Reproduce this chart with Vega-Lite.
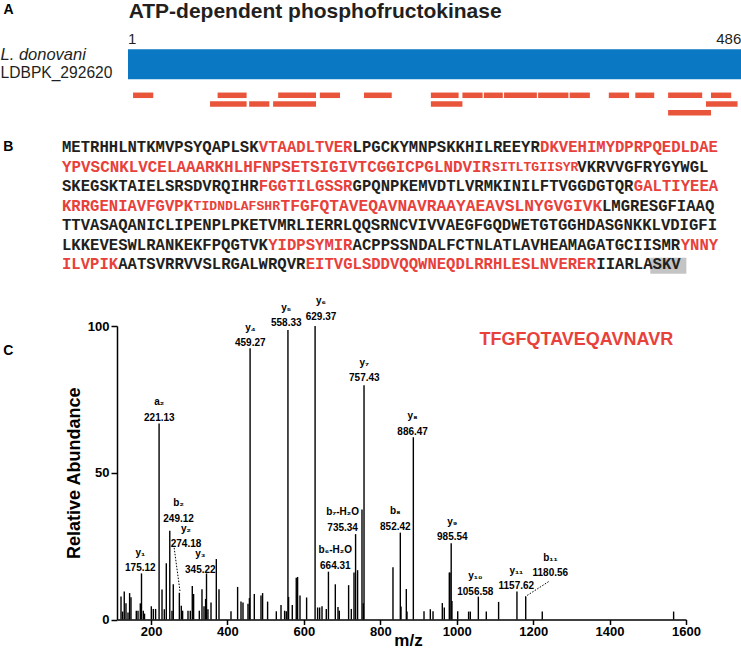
{
  "$schema": "https://vega.github.io/schema/vega-lite/v6.json",
  "padding": 0,
  "spacing": 0,
  "background": "white",
  "config": {"view": {"stroke": null}, "font": "Liberation Sans", "axis": {"grid": false}},
  "datasets": {
    "protein": [{"organism": "L. donovani", "gene": "LDBPK_292620", "name": "ATP-dependent phosphofructokinase", "start": 0, "end": 486, "first": "1", "last": "486", "panel": "A"}],
    "peptides": [
      {"start": 4, "end": 20, "lane": 1}, {"start": 71, "end": 94, "lane": 1}, {"start": 119, "end": 149, "lane": 1},
      {"start": 152, "end": 168, "lane": 1}, {"start": 187, "end": 209, "lane": 1}, {"start": 240, "end": 262, "lane": 1},
      {"start": 265, "end": 281, "lane": 1}, {"start": 282, "end": 297, "lane": 1}, {"start": 298, "end": 324, "lane": 1},
      {"start": 325, "end": 349, "lane": 1}, {"start": 350, "end": 366, "lane": 1}, {"start": 381, "end": 397, "lane": 1},
      {"start": 402, "end": 417, "lane": 1}, {"start": 428, "end": 455, "lane": 1}, {"start": 462, "end": 478, "lane": 1},
      {"start": 65, "end": 94, "lane": 2}, {"start": 96, "end": 112, "lane": 2}, {"start": 115, "end": 149, "lane": 2},
      {"start": 240, "end": 265, "lane": 2}, {"start": 458, "end": 483, "lane": 2},
      {"start": 428, "end": 462, "lane": 3}
    ],
    "sequence": [
      {"row": 1, "col": 0, "seq": "METRHHLNTKMVPSYQAPLSK", "covered": "no", "kind": "std"},
      {"row": 1, "col": 21, "seq": "VTAADLTVER", "covered": "yes", "kind": "std"},
      {"row": 1, "col": 31, "seq": "LPGCKYMNPSKKHILREEYR", "covered": "no", "kind": "std"},
      {"row": 1, "col": 51, "seq": "DKVEHIMYDPRPQEDLDAE", "covered": "yes", "kind": "std"},
      {"row": 2, "col": 0, "seq": "YPVSCNKLVCELAAARKHLHFNPSETSIGIVTCGGICPGLNDVIR", "covered": "yes", "kind": "wide"},
      {"row": 2, "col": 45.87, "seq": "SITLTGIISYR", "covered": "yes", "kind": "minor"},
      {"row": 2, "col": 54.97, "seq": "VKRVVGFRYGYWGL", "covered": "no", "kind": "std"},
      {"row": 3, "col": 0, "seq": "SKEGSKTAIELSRSDVRQIHR", "covered": "no", "kind": "std"},
      {"row": 3, "col": 21, "seq": "FGGTILGSSR", "covered": "yes", "kind": "std"},
      {"row": 3, "col": 31, "seq": "GPQNPKEMVDTLVRMKINILFTVGGDGTQR", "covered": "no", "kind": "std"},
      {"row": 3, "col": 61, "seq": "GALTIYEEA", "covered": "yes", "kind": "std"},
      {"row": 4, "col": 0, "seq": "KRRGENIAVFGVPK", "covered": "yes", "kind": "std"},
      {"row": 4, "col": 14.04, "seq": "TIDNDLAFSHR", "covered": "yes", "kind": "minor"},
      {"row": 4, "col": 23.3, "seq": "TFGFQTAVEQAVNAVRAAYAEAVSLNYGVGIVK", "covered": "yes", "kind": "spectrum"},
      {"row": 4, "col": 57.6, "seq": "LMGRESGFIAAQ", "covered": "no", "kind": "std"},
      {"row": 5, "col": 0, "seq": "TTVASAQANICLIPENPLPKETVMRLIERRLQQSRNCVIVVAEGFGQDWETGTGGHDASGNKKLVDIGFI", "covered": "no", "kind": "std"},
      {"row": 6, "col": 0, "seq": "LKKEVESWLRANKEKFPQGTVK", "covered": "no", "kind": "std"},
      {"row": 6, "col": 22, "seq": "YIDPSYMIR", "covered": "yes", "kind": "std"},
      {"row": 6, "col": 31, "seq": "ACPPSSNDALFCTNLATLAVHEAMAGATGCIISMR", "covered": "no", "kind": "std"},
      {"row": 6, "col": 66, "seq": "YNNY", "covered": "yes", "kind": "std"},
      {"row": 7, "col": 0, "seq": "ILVPIK", "covered": "yes", "kind": "std"},
      {"row": 7, "col": 6, "seq": "AATSVRRVVSLRGALWRQVR", "covered": "no", "kind": "std"},
      {"row": 7, "col": 26, "seq": "EITVGLSDDVQQWNEQDLRRHLESLNVERER", "covered": "yes", "kind": "std"},
      {"row": 7, "col": 57, "seq": "IIARLA", "covered": "no", "kind": "std"},
      {"row": 7, "col": 63, "seq": "SKV", "covered": "no", "kind": "std"}
    ],
    "motif": [{"row": 7, "from": 62.75, "to": 66.6, "motif": "SKV"}],
    "peaks": [
      {"mz": 121.5, "ab": 7.8}, {"mz": 125.7, "ab": 2.7}, {"mz": 130, "ab": 9.5}, {"mz": 134.5, "ab": 5.5},
      {"mz": 139.8, "ab": 2.4}, {"mz": 144, "ab": 9}, {"mz": 147.6, "ab": 7.6}, {"mz": 161.5, "ab": 3},
      {"mz": 166, "ab": 3}, {"mz": 172, "ab": 5.5}, {"mz": 175.12, "ab": 15.7}, {"mz": 179.8, "ab": 3},
      {"mz": 183, "ab": 2}, {"mz": 200.8, "ab": 4.5}, {"mz": 206, "ab": 3.6}, {"mz": 212, "ab": 3.6},
      {"mz": 221.13, "ab": 66.8}, {"mz": 228.8, "ab": 10.2}, {"mz": 234.8, "ab": 3.5}, {"mz": 240, "ab": 19.2},
      {"mz": 249.12, "ab": 30.2}, {"mz": 254.9, "ab": 3}, {"mz": 258.3, "ab": 12}, {"mz": 274.18, "ab": 9.1},
      {"mz": 279.3, "ab": 4.7}, {"mz": 282.7, "ab": 3}, {"mz": 296.8, "ab": 3}, {"mz": 302.8, "ab": 3},
      {"mz": 308, "ab": 11.4}, {"mz": 311.5, "ab": 8.7}, {"mz": 326.4, "ab": 3}, {"mz": 333.4, "ab": 10.3},
      {"mz": 338.7, "ab": 4.5}, {"mz": 342.9, "ab": 7}, {"mz": 345.22, "ab": 15.7}, {"mz": 349, "ab": 3.5},
      {"mz": 357, "ab": 5.8}, {"mz": 370.9, "ab": 20.6}, {"mz": 377.9, "ab": 10.3}, {"mz": 409.3, "ab": 2.8},
      {"mz": 426.6, "ab": 11.1}, {"mz": 435.5, "ab": 6.1}, {"mz": 440.7, "ab": 5.8}, {"mz": 453.8, "ab": 5.4},
      {"mz": 457.5, "ab": 7.3}, {"mz": 459.27, "ab": 92.4}, {"mz": 470.3, "ab": 8.7}, {"mz": 487.8, "ab": 8.2},
      {"mz": 492, "ab": 9}, {"mz": 505.1, "ab": 6.1}, {"mz": 527.9, "ab": 2.8}, {"mz": 540.2, "ab": 4.9},
      {"mz": 549.6, "ab": 3}, {"mz": 554, "ab": 2.8}, {"mz": 558.33, "ab": 98.6}, {"mz": 560, "ab": 7.7},
      {"mz": 569.7, "ab": 4.9}, {"mz": 580.1, "ab": 14.2}, {"mz": 583.6, "ab": 14.5}, {"mz": 589.9, "ab": 8.2},
      {"mz": 607.2, "ab": 7.5}, {"mz": 629.37, "ab": 100}, {"mz": 636, "ab": 4.1}, {"mz": 641.3, "ab": 4.1},
      {"mz": 647.5, "ab": 4.5}, {"mz": 658.7, "ab": 3.6}, {"mz": 664.31, "ab": 16.3}, {"mz": 682.3, "ab": 12},
      {"mz": 689.3, "ab": 4.3}, {"mz": 692.8, "ab": 3}, {"mz": 717.1, "ab": 11.7}, {"mz": 724.2, "ab": 3.6},
      {"mz": 731.2, "ab": 16}, {"mz": 735.34, "ab": 29.1}, {"mz": 740.6, "ab": 16.8}, {"mz": 752.1, "ab": 37.5},
      {"mz": 755.5, "ab": 5.5}, {"mz": 757.43, "ab": 79.8}, {"mz": 833.2, "ab": 17.8}, {"mz": 852.42, "ab": 29.6},
      {"mz": 854.2, "ab": 4.4}, {"mz": 868.1, "ab": 10.4}, {"mz": 869.9, "ab": 2.7}, {"mz": 886.47, "ab": 62.1},
      {"mz": 914.4, "ab": 2.8}, {"mz": 930.9, "ab": 3.5}, {"mz": 938, "ab": 2.8}, {"mz": 962.3, "ab": 5.6},
      {"mz": 967.5, "ab": 4.1}, {"mz": 980.6, "ab": 16}, {"mz": 982.4, "ab": 16}, {"mz": 985.54, "ab": 26},
      {"mz": 987.5, "ab": 6.3}, {"mz": 1002.6, "ab": 2.8}, {"mz": 1031.1, "ab": 2.7}, {"mz": 1035.6, "ab": 2.7},
      {"mz": 1056.58, "ab": 7.8}, {"mz": 1077.4, "ab": 2.7}, {"mz": 1109.6, "ab": 6}, {"mz": 1157.62, "ab": 9.5},
      {"mz": 1180.56, "ab": 7.8}, {"mz": 1223.9, "ab": 2.7}, {"mz": 1567.6, "ab": 2.7}
    ],
    "ions": [
      {"ion": "y₁", "label": "175.12", "mz": 172, "ab": 17.4},
      {"ion": "a₂", "label": "221.13", "mz": 221.7, "ab": 68.8},
      {"ion": "b₂", "label": "249.12", "mz": 272.2, "ab": 34.4},
      {"ion": "y₂", "label": "274.18", "mz": 291.6, "ab": 25.6},
      {"ion": "y₃", "label": "345.22", "mz": 329, "ab": 16.9},
      {"ion": "y₄", "label": "459.27", "mz": 459.8, "ab": 94.1},
      {"ion": "y₅", "label": "558.33", "mz": 554, "ab": 100.9},
      {"ion": "y₆", "label": "629.37", "mz": 644.9, "ab": 103.2},
      {"ion": "y₇", "label": "757.43", "mz": 758.2, "ab": 82.2},
      {"ion": "b₇-H₂O", "label": "735.34", "mz": 701.4, "ab": 31.3},
      {"ion": "b₆-H₂O", "label": "664.31", "mz": 682.3, "ab": 18.3},
      {"ion": "b₈", "label": "852.42", "mz": 839.3, "ab": 31.6},
      {"ion": "y₈", "label": "886.47", "mz": 884.6, "ab": 64},
      {"ion": "y₉", "label": "985.54", "mz": 988.5, "ab": 28},
      {"ion": "y₁₀", "label": "1056.58", "mz": 1048.7, "ab": 9.5},
      {"ion": "y₁₁", "label": "1157.62", "mz": 1156, "ab": 11.4},
      {"ion": "b₁₁", "label": "1180.56", "mz": 1245, "ab": 15.7}
    ],
    "leaders": [
      {"mz": 260.6, "ab": 24.4, "mz2": 276.3, "ab2": 9.2},
      {"mz": 1240.5, "ab": 12.9, "mz2": 1179.5, "ab2": 7.8}
    ]
  },
  "vconcat": [
    {
      "width": 624.3,
      "height": 120,
      "data": {"name": "protein"},
      "layer": [
        {"mark": {"type": "rect", "color": "#0a78c2"},
         "encoding": {
           "x": {"field": "start", "type": "quantitative", "scale": {"domain": [-8.72, 486], "nice": false, "zero": false}, "axis": null},
           "x2": {"field": "end"},
           "y": {"datum": -4.287, "type": "quantitative", "scale": {"domain": [-9.839, 3.954], "reverse": true, "nice": false, "zero": false}, "axis": null},
           "y2": {"datum": -0.839}}},
        {"data": {"name": "peptides"}, "mark": {"type": "rule", "color": "#e9553b", "strokeWidth": 5.5, "strokeCap": "butt"},
         "encoding": {
           "x": {"field": "start", "type": "quantitative", "scale": {"domain": [-8.72, 486], "nice": false, "zero": false}, "axis": null},
           "x2": {"field": "end"},
           "y": {"field": "lane", "type": "quantitative", "scale": {"domain": [-9.839, 3.954], "reverse": true, "nice": false, "zero": false}, "axis": null}}},
        {"mark": {"type": "text", "align": "left", "baseline": "middle", "fontSize": 21, "fontWeight": "bold", "color": "#231f20"},
         "encoding": {"x": {"datum": 0.5, "type": "quantitative"}, "y": {"datum": -8.6, "type": "quantitative"}, "text": {"field": "name"}}},
        {"mark": {"type": "text", "align": "left", "baseline": "middle", "fontSize": 14, "fontWeight": "bold", "color": "#000000"},
         "encoding": {"x": {"datum": -98.6, "type": "quantitative"}, "y": {"datum": -8.805, "type": "quantitative"}, "text": {"field": "panel"}}},
        {"mark": {"type": "text", "align": "left", "baseline": "middle", "fontSize": 15, "color": "#231f20"},
         "encoding": {"x": {"field": "start", "type": "quantitative"}, "y": {"datum": -5.437, "type": "quantitative"}, "text": {"field": "first"}}},
        {"mark": {"type": "text", "align": "right", "baseline": "middle", "fontSize": 15, "color": "#231f20"},
         "encoding": {"x": {"field": "end", "type": "quantitative"}, "y": {"datum": -5.437, "type": "quantitative"}, "text": {"field": "last"}}},
        {"mark": {"type": "text", "align": "left", "baseline": "middle", "fontSize": 16.5, "fontStyle": "italic", "color": "#231f20"},
         "encoding": {"x": {"datum": -101, "type": "quantitative"}, "y": {"datum": -3.632, "type": "quantitative"}, "text": {"field": "organism"}}},
        {"mark": {"type": "text", "align": "left", "baseline": "middle", "fontSize": 15.6, "color": "#231f20"},
         "encoding": {"x": {"datum": -101, "type": "quantitative"}, "y": {"datum": -1.598, "type": "quantitative"}, "text": {"field": "gene"}}}
      ]
    },
    {
      "width": 624.3,
      "height": 175,
      "layer": [
        {"data": {"name": "motif"}, "mark": {"type": "rect", "color": "#c4c4c4"},
         "encoding": {
           "x": {"field": "from", "type": "quantitative", "scale": {"domain": [5.867, 72.459], "nice": false, "zero": false}, "axis": null},
           "x2": {"field": "to"},
           "y": {"datum": 6.66, "type": "quantitative", "scale": {"domain": [-0.33, 8.62], "reverse": true, "nice": false, "zero": false}, "axis": null},
           "y2": {"datum": 7.48}}},
        {"data": {"name": "sequence"}, "transform": [{"filter": "datum.kind == 'std'"}],
         "mark": {"type": "text", "align": "left", "baseline": "middle", "font": "Liberation Mono", "fontWeight": "bold", "fontSize": 15.6},
         "encoding": {
           "x": {"field": "col", "type": "quantitative", "scale": {"domain": [5.867, 72.459], "nice": false, "zero": false}, "axis": null},
           "y": {"field": "row", "type": "quantitative", "scale": {"domain": [-0.33, 8.62], "reverse": true, "nice": false, "zero": false}, "axis": null},
           "color": {"field": "covered", "type": "nominal", "scale": {"domain": ["yes", "no"], "range": ["#e8403a", "#231f20"]}, "legend": null},
           "text": {"field": "seq"}}},
        {"data": {"name": "sequence"}, "transform": [{"filter": "datum.kind == 'wide'"}],
         "mark": {"type": "text", "align": "left", "baseline": "middle", "font": "Liberation Mono", "fontWeight": "bold", "fontSize": 15.9},
         "encoding": {
           "x": {"field": "col", "type": "quantitative"},
           "y": {"field": "row", "type": "quantitative"},
           "color": {"field": "covered", "type": "nominal", "legend": null},
           "text": {"field": "seq"}}},
        {"data": {"name": "sequence"}, "transform": [{"filter": "datum.kind == 'minor'"}],
         "mark": {"type": "text", "align": "left", "baseline": "middle", "font": "Liberation Mono", "fontWeight": "bold", "fontSize": 13.1},
         "encoding": {
           "x": {"field": "col", "type": "quantitative"},
           "y": {"field": "row", "type": "quantitative"},
           "color": {"field": "covered", "type": "nominal", "legend": null},
           "text": {"field": "seq"}}},
        {"data": {"name": "sequence"}, "transform": [{"filter": "datum.kind == 'spectrum'"}],
         "mark": {"type": "text", "align": "left", "baseline": "middle", "font": "Liberation Mono", "fontWeight": "bold", "fontSize": 16.25},
         "encoding": {
           "x": {"field": "col", "type": "quantitative"},
           "y": {"field": "row", "type": "quantitative"},
           "color": {"field": "covered", "type": "nominal", "legend": null},
           "text": {"field": "seq"}}},
        {"data": {"values": [{"panel": "B"}]}, "mark": {"type": "text", "align": "left", "baseline": "middle", "fontSize": 14, "fontWeight": "bold", "color": "#000000"},
         "encoding": {"x": {"datum": -6.26, "type": "quantitative"}, "y": {"datum": 1, "type": "quantitative"}, "text": {"field": "panel"}}}
      ]
    },
    {
      "width": 569,
      "height": 293.5,
      "layer": [
        {"data": {"name": "peaks"}, "mark": {"type": "rule", "color": "#000000", "strokeWidth": 1.4},
         "encoding": {
           "x": {"field": "mz", "type": "quantitative", "title": "m/z", "scale": {"domain": [111, 1600], "nice": false, "zero": false},
                 "axis": {"values": [200, 400, 600, 800, 1000, 1200, 1400, 1600], "format": "d", "labelFlush": false,
                          "labelFontWeight": "bold", "labelFontSize": 13, "labelColor": "#000000", "labelPadding": 1,
                          "domainColor": "#000000", "domainWidth": 1.5, "tickColor": "#000000", "tickWidth": 1.5, "tickSize": 5,
                          "titleFontSize": 17, "titleFontWeight": "bold", "titleColor": "#000000", "titlePadding": -6, "titleX": 291}},
           "y": {"field": "ab", "type": "quantitative", "title": "Relative Abundance", "scale": {"domain": [0, 100], "nice": false, "zero": false},
                 "axis": {"values": [0, 50, 100], "labelFontWeight": "bold", "labelFontSize": 13, "labelColor": "#000000",
                          "labelPadding": 2, "domainColor": "#000000", "domainWidth": 1.5, "tickColor": "#000000", "tickWidth": 1.5, "tickSize": 6,
                          "titleFontSize": 18, "titleFontWeight": "bold", "titleColor": "#000000", "titlePadding": 4}},
           "y2": {"datum": 0}}},
        {"data": {"name": "leaders"}, "mark": {"type": "rule", "color": "#000000", "strokeWidth": 1, "strokeDash": [1.5, 1.5]},
         "encoding": {
           "x": {"field": "mz", "type": "quantitative", "title": "m/z"},
           "y": {"field": "ab", "type": "quantitative", "title": "Relative Abundance"},
           "x2": {"field": "mz2"}, "y2": {"field": "ab2"}}},
        {"data": {"name": "ions"}, "mark": {"type": "text", "baseline": "middle", "fontSize": 10, "fontWeight": "bold", "color": "#000000", "dy": -15.5},
         "encoding": {
           "x": {"field": "mz", "type": "quantitative", "title": "m/z"},
           "y": {"field": "ab", "type": "quantitative", "title": "Relative Abundance"},
           "text": {"field": "ion"}}},
        {"data": {"name": "ions"}, "mark": {"type": "text", "baseline": "middle", "fontSize": 10, "fontWeight": "bold", "color": "#000000"},
         "encoding": {
           "x": {"field": "mz", "type": "quantitative", "title": "m/z"},
           "y": {"field": "ab", "type": "quantitative", "title": "Relative Abundance"},
           "text": {"field": "label"}}},
        {"data": {"values": [{"peptide": "TFGFQTAVEQAVNAVR"}]}, "mark": {"type": "text", "baseline": "middle", "fontSize": 18, "fontWeight": "bold", "color": "#e8413c"},
         "encoding": {"x": {"datum": 1313, "type": "quantitative", "title": "m/z"}, "y": {"datum": 95.2, "type": "quantitative", "title": "Relative Abundance"}, "text": {"field": "peptide"}}},
        {"data": {"values": [{"panel": "C"}]}, "mark": {"type": "text", "align": "left", "baseline": "middle", "fontSize": 14, "fontWeight": "bold", "color": "#000000"},
         "encoding": {"x": {"datum": -186.5, "type": "quantitative", "title": "m/z"}, "y": {"datum": 91.5, "type": "quantitative", "title": "Relative Abundance"}, "text": {"field": "panel"}}}
      ]
    }
  ]
}
